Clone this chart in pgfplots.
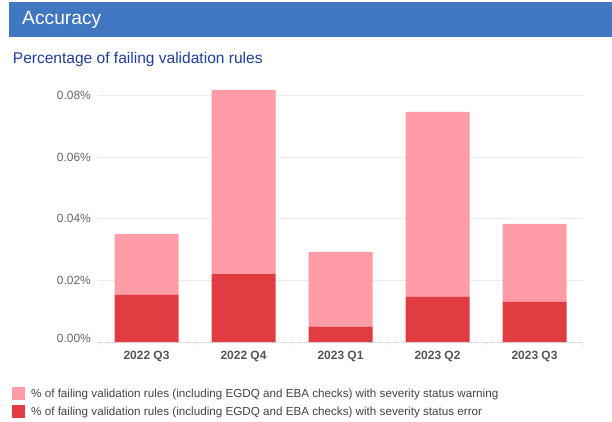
\documentclass[border=0pt]{standalone}
\usepackage{pgfplots}
\pgfplotsset{compat=1.18}
\usepackage{fontspec}
\setmainfont{Liberation Sans}
\definecolor{warn}{HTML}{FF9CA6}
\definecolor{err}{HTML}{E03C42}
\definecolor{hdr}{HTML}{4176C0}
\definecolor{subt}{HTML}{1F3E9E}
\definecolor{tickc}{HTML}{666666}
\definecolor{catc}{HTML}{555555}
\definecolor{legc}{HTML}{444444}
\definecolor{gridc}{HTML}{EBEBEB}
\begin{document}
\begin{tikzpicture}[x=1bp,y=1bp]
\fill[white] (0,0) rectangle (612,421);
\fill[hdr] (9,384.3) rectangle (612,419);
\node[anchor=west, text=white, font=\fontsize{19.3}{22}\selectfont, inner sep=0pt] at (22,401.5) {Accuracy};
\node[anchor=west, text=subt, font=\fontsize{15.6}{18}\selectfont, inner sep=0pt] at (12.7,361.5) {Percentage of failing validation rules};
\begin{axis}[
  at={(98bp,79bp)}, anchor=south west,
  scale only axis, width=485bp, height=259.1bp,
  xmin=-0.5, xmax=4.5, ymin=0, ymax=0.084,
  scaled y ticks=false,
  ybar stacked, bar width=64bp, clip=false,
  axis x line*=bottom, axis y line*=left,
  x axis line style={draw=black!22, densely dotted, line width=1bp, -},
  y axis line style={draw=none},
  xtick={0,1,2,3,4},
  xticklabels={2022 Q3,2022 Q4,2023 Q1,2023 Q2,2023 Q3},
  minor xtick={-0.5,0.5,1.5,2.5,3.5,4.5},
  major tick length=0pt, minor tick length=4bp, tick align=outside,
  minor tick style={draw=gridc, line width=0.8bp},
  xticklabel style={anchor=north, inner sep=0pt, yshift=-8.5bp, text=catc, font=\fontsize{12}{14}\selectfont\bfseries},
  ytick={0.02,0.04,0.06,0.08},
  yticklabels={0.02\%,0.04\%,0.06\%,0.08\%},
  extra y ticks={0},
  extra y tick labels={\raisebox{7bp}{0.00\%}},
  extra y tick style={grid=none},
  yticklabel style={anchor=east, inner sep=0pt, xshift=-7bp, text=tickc, font=\fontsize{12}{14}\selectfont},
  ymajorgrids, grid style={draw=gridc, line width=0.8bp},
  legend style={at={(-0.1773,-0.1737)}, anchor=north west, draw=none, fill=none,
    font=\fontsize{11.7}{13}\selectfont, text=legc, row sep=5.5bp, inner sep=0pt,
    nodes={inner sep=0pt, anchor=west}},
  legend cell align=left,
  reverse legend,
  legend image code/.code={\fill[#1] (0bp,-6.35bp) rectangle (12.3bp,6.35bp); \path (19bp,0) coordinate (dummy);},
]
\addplot[fill=err, draw=none] coordinates {(0,0.0153) (1,0.0220) (2,0.0050) (3,0.0146) (4,0.0130)};
\addlegendentry{\% of failing validation rules (including EGDQ and EBA checks) with severity status error}
\addplot[fill=warn, draw=none] coordinates {(0,0.0197) (1,0.0597) (2,0.0242) (3,0.0600) (4,0.0253)};
\addlegendentry{\% of failing validation rules (including EGDQ and EBA checks) with severity status warning}
\end{axis}
\end{tikzpicture}
\end{document}
